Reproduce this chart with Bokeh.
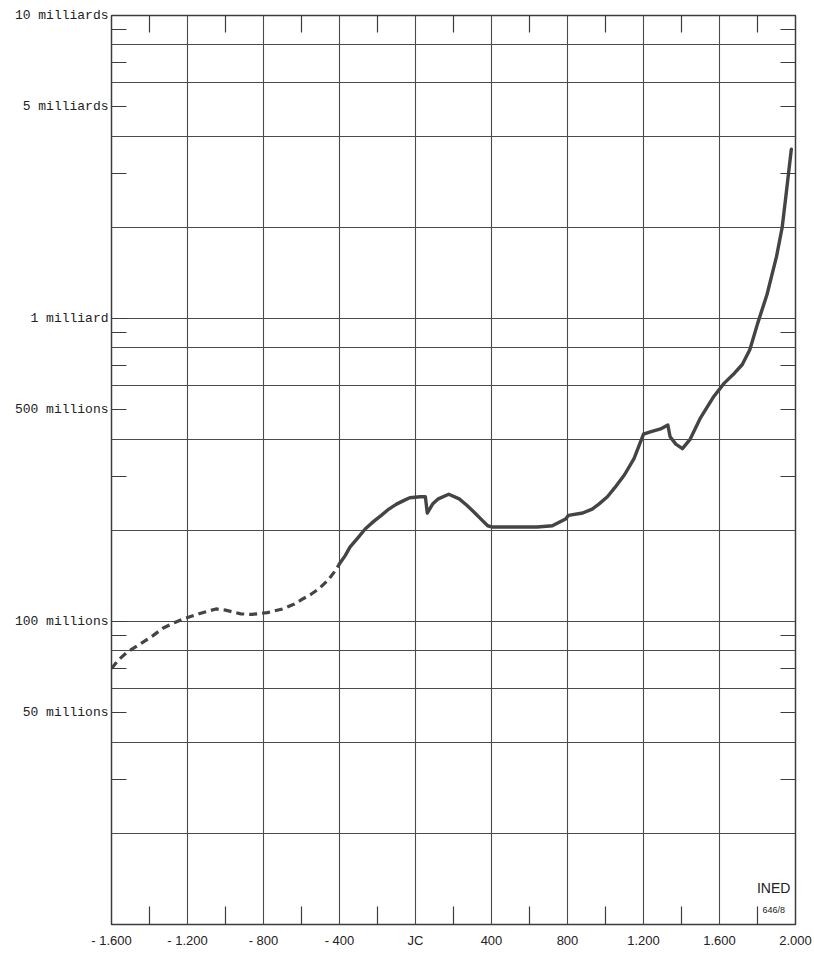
from bokeh.plotting import figure
from bokeh.models import FixedTicker, LogAxis, LinearAxis, Label
from bokeh.embed import file_html
from bokeh.resources import INLINE

# ---- data (population in millions) ----
years_dashed = [-1600, -1560, -1520, -1440, -1380, -1330, -1270, -1220, -1140, -1050, -1000, -920, -860,
                -780, -700, -640, -600, -550, -510, -460, -430, -400]
pop_dashed_m = [70, 75, 79, 85, 90, 95, 99, 102, 106, 110, 109, 106, 105.5,
                107, 110, 114, 118, 123, 128, 137, 145, 155]

years_solid = [-400, -370, -345, -300, -265, -220, -180, -140, -100, -60, -30, 25, 52, 62, 90, 120, 175,
               230, 270, 310, 350, 380, 405, 530, 640, 720, 790, 805, 880, 930, 965, 1010, 1050, 1100,
               1150, 1200, 1240, 1290, 1328, 1340, 1370, 1405, 1446, 1500, 1570, 1625, 1680, 1720, 1760,
               1800, 1850, 1900, 1930, 1950, 1978]
pop_solid_m = [155, 165, 176, 190, 202, 214, 224, 235, 244, 251, 256, 258, 258, 228, 244, 254, 263,
               254, 242, 229, 216, 207, 205, 205, 205, 207, 218, 224, 228, 235, 244, 258, 277, 305,
               345, 415, 423, 432, 445, 407, 385, 372, 400, 470, 553, 612, 661, 705, 790,
               960, 1200, 1600, 2000, 2550, 3620]

# axis ticks / labels
x_label_years = [-1600, -1200, -800, -400, 0, 400, 800, 1200, 1600, 2000]
x_labels = ["- 1.600", "- 1.200", "- 800", "- 400", "JC", "400", "800", "1.200", "1.600", "2.000"]
x_minor_years = [-1400, -1000, -600, -200, 200, 600, 1000, 1400, 1800]
x_grid_years = [-1200, -800, -400, 0, 400, 800, 1200, 1600]

y_label_values = [1e10, 5e9, 1e9, 5e8, 1e8, 5e7]
y_labels = ["10 milliards", "5 milliards", "1 milliard", "500 millions", "100 millions", "50 millions"]
y_minor_values = [9e9, 7e9, 3e9, 9e8, 7e8, 3e8, 9e7, 7e7, 3e7]
y_right_ticks = [9e9, 7e9, 5e9, 3e9, 9e8, 7e8, 5e8, 3e8, 9e7, 7e7, 5e7, 3e7]
y_grid_values = [8e9, 6e9, 4e9, 2e9, 1e9, 8e8, 6e8, 4e8, 2e8, 1e8, 8e7, 6e7, 4e7, 2e7]

pop_dashed = [v * 1e6 for v in pop_dashed_m]
pop_solid = [v * 1e6 for v in pop_solid_m]

INK = "#3c3c3c"
GRID = "#4a4a4a"

p = figure(frame_width=684, frame_height=909,
           x_range=(-1600, 2000), y_range=(1e7, 1e10), y_axis_type="log",
           output_backend="svg", toolbar_location=None,
           min_border_left=111, min_border_right=19, min_border_top=15, min_border_bottom=28,
           background_fill_color="white", border_fill_color="white",
           outline_line_color=INK, outline_line_width=1.5)

# grid
p.xgrid.ticker = FixedTicker(ticks=x_grid_years)
p.ygrid.ticker = FixedTicker(ticks=y_grid_values)
p.xgrid.grid_line_color = GRID
p.ygrid.grid_line_color = GRID
p.xgrid.grid_line_width = 1.1
p.ygrid.grid_line_width = 1.1

# bottom axis
xb = p.below[0]
xb.ticker = FixedTicker(ticks=x_label_years, minor_ticks=x_minor_years)
xb.major_label_overrides = {float(y): lab for y, lab in zip(x_label_years, x_labels)}
xb.major_tick_in = 0
xb.major_tick_out = 0
xb.minor_tick_in = 18
xb.minor_tick_out = 0
xb.minor_tick_line_color = INK
xb.minor_tick_line_width = 1.2
xb.axis_line_color = None
xb.major_label_standoff = 8
xb.major_label_text_font = "Liberation Sans"
xb.major_label_text_font_size = "13px"
xb.major_label_text_color = "#222222"

# left axis
yl = p.left[0]
yl.ticker = FixedTicker(ticks=y_label_values, minor_ticks=y_minor_values)
yl.major_label_overrides = {float(v): lab for v, lab in zip(y_label_values, y_labels)}
yl.major_tick_in = 15
yl.major_tick_out = 0
yl.minor_tick_in = 15
yl.minor_tick_out = 0
yl.major_tick_line_color = INK
yl.minor_tick_line_color = INK
yl.major_tick_line_width = 1.2
yl.minor_tick_line_width = 1.2
yl.axis_line_color = None
yl.major_label_standoff = 3
yl.major_label_text_font = "Liberation Mono"
yl.major_label_text_font_size = "13px"
yl.major_label_text_color = "#222222"

# right axis (inward ticks only, no labels)
yr = LogAxis(ticker=FixedTicker(ticks=[], minor_ticks=y_right_ticks),
             major_tick_in=0, major_tick_out=0, minor_tick_in=15, minor_tick_out=0,
             minor_tick_line_color=INK, minor_tick_line_width=1.2,
             axis_line_color=None, major_label_standoff=0)
p.add_layout(yr, "right")

# top axis (inward ticks only, no labels)
xt = LinearAxis(ticker=FixedTicker(ticks=[], minor_ticks=x_minor_years),
                major_tick_in=0, major_tick_out=0, minor_tick_in=17, minor_tick_out=0,
                minor_tick_line_color=INK, minor_tick_line_width=1.2,
                axis_line_color=None, major_label_standoff=0)
p.add_layout(xt, "above")

# population curve
p.line(years_dashed, pop_dashed, line_width=3.2, line_color="#444444", line_dash="8 5", line_cap="butt",
       line_join="round")
p.line(years_solid, pop_solid, line_width=3.4, line_color="#444444", line_join="round", line_cap="round")

# INED mark
p.add_layout(Label(x=1885, y=1.32e7, text="INED", text_align="center", text_baseline="middle",
                   text_font="Liberation Sans", text_font_size="14px", text_color="#222222"))
p.add_layout(Label(x=1885, y=1.12e7, text="646/8", text_align="center", text_baseline="middle",
                   text_font="Liberation Sans", text_font_size="9px", text_color="#222222"))

open("out.html", "w").write(file_html(p, INLINE))
